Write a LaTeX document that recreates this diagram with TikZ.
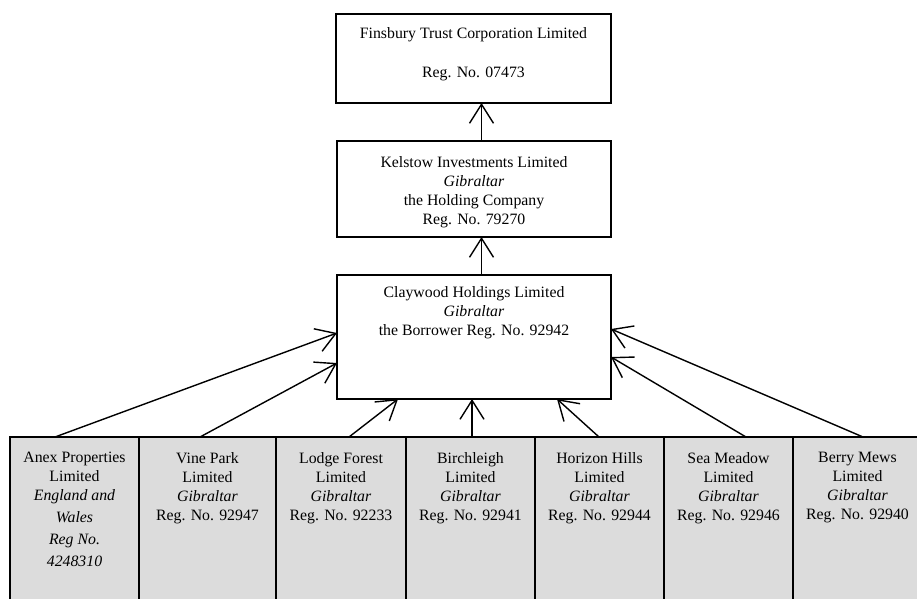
\documentclass[tikz,border=0pt]{standalone}
\usepackage{fontspec}
\setmainfont{Liberation Serif}
\usetikzlibrary{arrows.meta}
\definecolor{boxgray}{HTML}{DCDCDC}
\begin{document}
\begin{tikzpicture}[x=1pt,y=-1pt,
  box/.style={draw, line width=1.6pt, anchor=north west, inner sep=0pt, outer sep=0pt},
  sub/.style={box, fill=boxgray, minimum height=183pt},
  txt/.style={anchor=north, align=center, inner sep=0pt, font=\fontsize{15.8}{19}\selectfont},
  arr/.style={line width=1.4pt, -{Straight Barb[length=19pt,width=24pt,line width=1.4pt]}}]
\useasboundingbox (0,0) rectangle (917,598);

% main boxes
\node[box, minimum width=275pt, minimum height=89pt] (fin) at (336,14) {};
\node[box, minimum width=274pt, minimum height=96pt] (kel) at (337,141) {};
\node[box, minimum width=274pt, minimum height=124pt] (clay) at (337,275) {};

\node[txt] (tfin) at ([yshift=-13.5pt]fin.north) {Finsbury Trust Corporation Limited\\[20pt]Reg. No. 07473};
\node[txt] (tkel) at ([yshift=-15.5pt]kel.north) {Kelstow Investments Limited\\\textit{Gibraltar}\\the Holding Company\\Reg. No. 79270};
\node[txt] (tclay) at ([yshift=-11.5pt]clay.north) {Claywood Holdings Limited\\\textit{Gibraltar}\\the Borrower Reg. No. 92942};

% subsidiaries
\node[sub, minimum width=129pt] (anex) at (10,437) {};
\node[sub, minimum width=137pt] (vine) at (139,437) {};
\node[sub, minimum width=130pt] (lodge) at (276,437) {};
\node[sub, minimum width=129pt] (birch) at (406,437) {};
\node[sub, minimum width=129pt] (horiz) at (535,437) {};
\node[sub, minimum width=129pt] (sea) at (664,437) {};
\node[sub, minimum width=129pt] (berry) at (793,437) {};

\node[txt] (tanex) at ([yshift=-15pt]anex.north) {Anex Properties\\Limited\\\textit{England and}\\[3pt]\textit{Wales}\\[3pt]\textit{Reg No.}\\[3pt]\textit{4248310}};
\node[txt] (tvine) at ([yshift=-15pt]vine.north) {Vine Park\\Limited\\\textit{Gibraltar}\\Reg. No. 92947};
\node[txt] (tlodge) at ([yshift=-15pt]lodge.north) {Lodge Forest\\Limited\\\textit{Gibraltar}\\Reg. No. 92233};
\node[txt] (tbirch) at ([yshift=-15pt]birch.north) {Birchleigh\\Limited\\\textit{Gibraltar}\\Reg. No. 92941};
\node[txt] (thoriz) at ([yshift=-15pt]horiz.north) {Horizon Hills\\Limited\\\textit{Gibraltar}\\Reg. No. 92944};
\node[txt] (tsea) at ([yshift=-15pt]sea.north) {Sea Meadow\\Limited\\\textit{Gibraltar}\\Reg. No. 92946};
\node[txt] (tberry) at ([yshift=-15pt]berry.north) {Berry Mews\\Limited\\\textit{Gibraltar}\\Reg. No. 92940};

% connectors
\draw[arr] ([xshift=7.5pt]kel.north) -- ([xshift=8pt]fin.south);
\draw[arr] ([xshift=7.5pt]clay.north) -- ([xshift=7.5pt]kel.south);

\draw[arr] ([xshift=45pt]anex.north west) -- ([yshift=-58pt]clay.north west);
\draw[arr] ([xshift=61pt]vine.north west) -- ([yshift=-88pt]clay.north west);
\draw[arr] ([xshift=73pt]lodge.north west) -- ([xshift=61pt]clay.south west);
\draw[arr] ([xshift=66pt]birch.north west) -- ([xshift=135pt]clay.south west);
\draw[arr] ([xshift=64pt]horiz.north west) -- ([xshift=220pt]clay.south west);
\draw[arr] ([xshift=82pt]sea.north west) -- ([yshift=-82pt]clay.north east);
\draw[arr] ([xshift=70pt]berry.north west) -- ([yshift=-54pt]clay.north east);
\end{tikzpicture}
\end{document}
